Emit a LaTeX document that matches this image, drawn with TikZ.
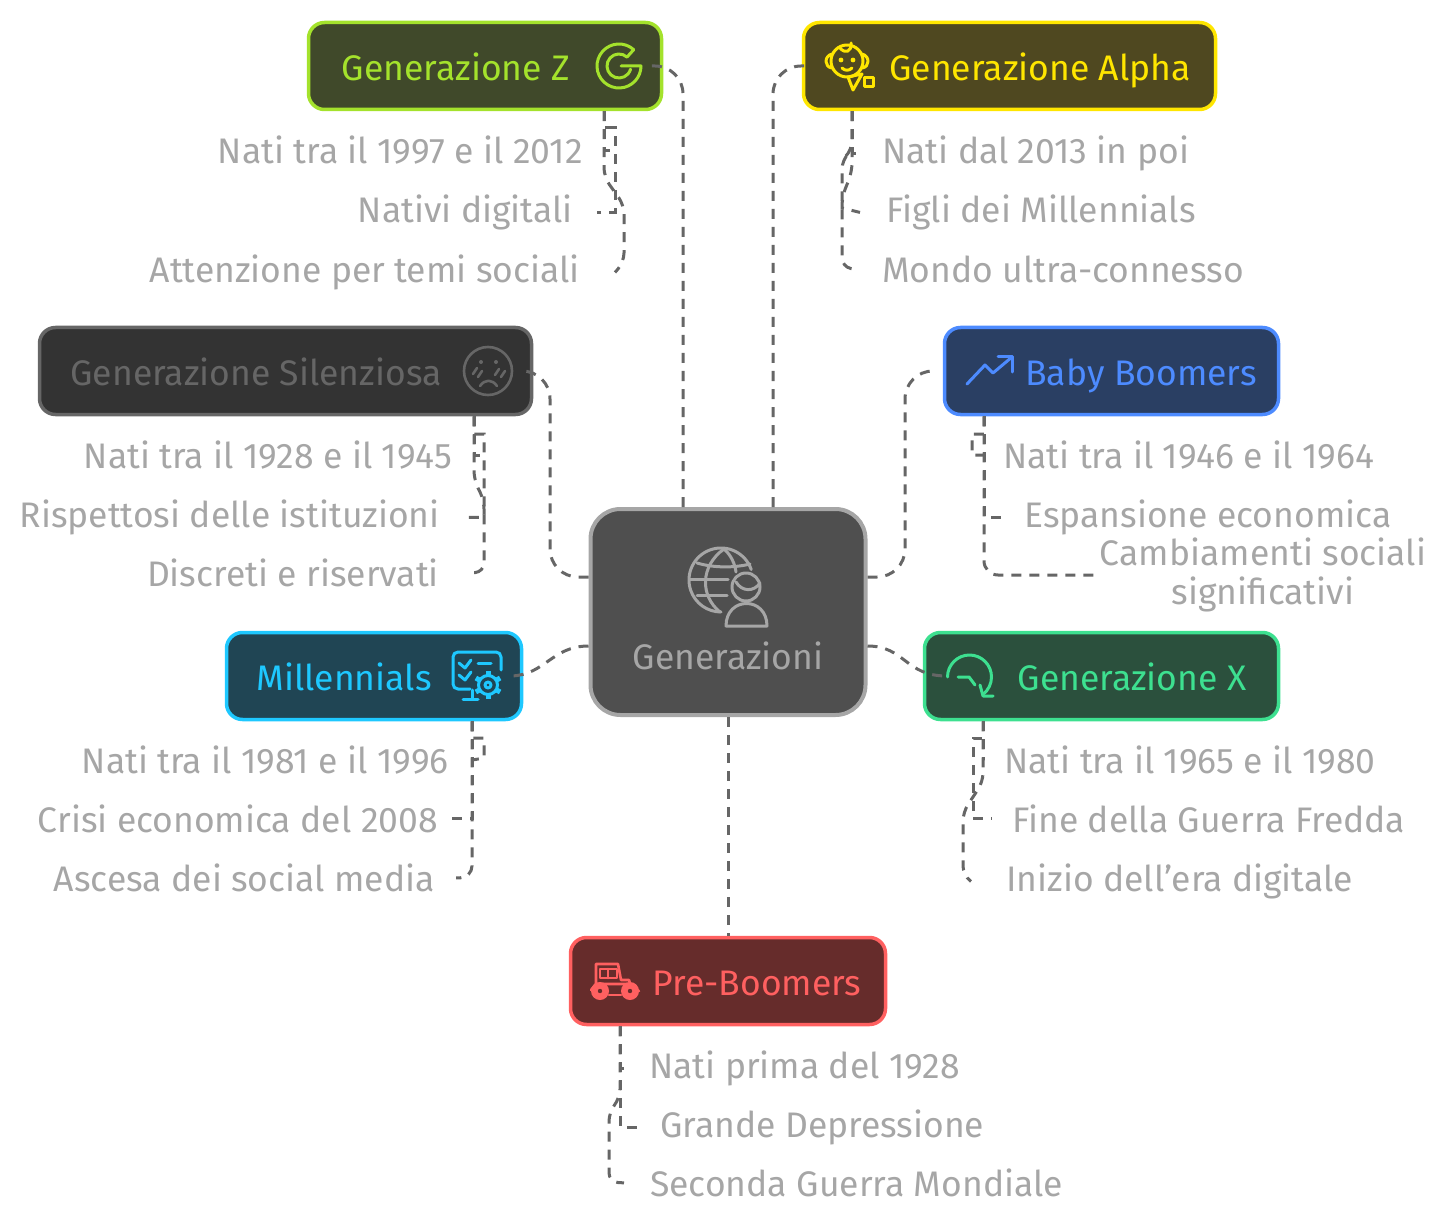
\documentclass[tikz,border=0pt]{standalone}
\usepackage{fontspec}
\setmainfont{Fira Sans}
\newcommand{\genfont}{\fontsize{35.5}{39}\selectfont}
\definecolor{linkgray}{HTML}{666666}
\definecolor{textgray}{HTML}{A6A6A6}
\definecolor{zline}{HTML}{A4E22C}
\definecolor{zfill}{HTML}{40492A}
\definecolor{aline}{HTML}{FFE600}
\definecolor{afill}{HTML}{4F4820}
\definecolor{sline}{HTML}{666666}
\definecolor{sfill}{HTML}{333333}
\definecolor{bline}{HTML}{4D8BFF}
\definecolor{bfill}{HTML}{2A3F63}
\definecolor{mline}{HTML}{1EC8FF}
\definecolor{mfill}{HTML}{204554}
\definecolor{xline}{HTML}{3DE090}
\definecolor{xfill}{HTML}{2B503D}
\definecolor{pline}{HTML}{FF6060}
\definecolor{pfill}{HTML}{662C2B}
\definecolor{rfill}{HTML}{4F4F4F}
\tikzset{
    genbox/.style 2 args={draw=#1, fill=#2, line width=3.5pt, rounded corners=16pt,
        minimum height=87pt, inner sep=0pt},
    genlabel/.style={font=\genfont, inner sep=0pt, anchor=base, yshift=-1.5pt},
    lefttext/.style={font=\genfont, text=textgray, inner sep=0pt, anchor=base east, yshift=-1.5pt},
    righttext/.style={font=\genfont, text=textgray, inner sep=0pt, anchor=base west, yshift=-1.5pt},
    link/.style={draw=linkgray, line width=3pt, dash pattern=on 10pt off 8pt},
    icon/.style={line width=3pt, line cap=round, line join=round},
}

\begin{document}
\begin{tikzpicture}[x=1pt, y=-1pt]
    \useasboundingbox (0,0) rectangle (1456,1222);
    % boxes
    \node[genbox={textgray}{rfill}, line width=4pt, rounded corners=30pt,
        minimum width=275pt, minimum height=206pt] (root) at (728,612) {};
    \node[genbox={zline}{zfill}, minimum width=353pt] (genz) at (485,66) {};
    \node[genbox={aline}{afill}, minimum width=412pt] (alpha) at (1009.5,66) {};
    \node[genbox={sline}{sfill}, minimum width=492pt] (silent) at (285.5,371) {};
    \node[genbox={bline}{bfill}, minimum width=334pt] (baby) at (1111.5,371) {};
    \node[genbox={mline}{mfill}, minimum width=295pt] (mill) at (374,676) {};
    \node[genbox={xline}{xfill}, minimum width=354pt] (genx) at (1101.5,676) {};
    \node[genbox={pline}{pfill}, minimum width=315pt] (pre) at (728,981) {};
    % labels
    \node[genlabel, text=textgray] (rootlabel) at (728,668) {Generazioni};
    \node[genlabel, text=zline] (genzlabel) at (456,79) {Generazione Z};
    \node[genlabel, text=aline] (alphalabel) at (1040,79) {Generazione Alpha};
    \node[genlabel, text=sline] (silentlabel) at (256,384) {Generazione Silenziosa};
    \node[genlabel, text=bline] (babylabel) at (1141,384) {Baby Boomers};
    \node[genlabel, text=mline] (milllabel) at (344,689) {Millennials};
    \node[genlabel, text=xline] (genxlabel) at (1132,689) {Generazione X};
    \node[genlabel, text=pline] (prelabel) at (757,994) {Pre-Boomers};
    % items
    \node[lefttext] (zone) at (583,162) {Nati tra il 1997 e il 2012};
    \node[lefttext] (ztwo) at (573,221) {Nativi digitali};
    \node[lefttext] (zthree) at (580,281) {Attenzione per temi sociali};
    \node[righttext] (aone) at (882,162) {Nati dal 2013 in poi};
    \node[righttext] (atwo) at (886,221) {Figli dei Millennials};
    \node[righttext] (athree) at (882,281) {Mondo ultra-connesso};
    \node[lefttext] (sone) at (452,467) {Nati tra il 1928 e il 1945};
    \node[lefttext] (stwo) at (440,526) {Rispettosi delle istituzioni};
    \node[lefttext] (sthree) at (439,585) {Discreti e riservati};
    \node[righttext] (bone) at (1003,467) {Nati tra il 1946 e il 1964};
    \node[righttext] (btwo) at (1024,526) {Espansione economica};
    \node[font=\genfont, text=textgray, inner sep=0pt, align=center] (bthree) at (1263,575)
        {Cambiamenti sociali\\significativi};
    \node[lefttext] (mone) at (449,772) {Nati tra il 1981 e il 1996};
    \node[lefttext] (mtwo) at (438,831) {Crisi economica del 2008};
    \node[lefttext] (mthree) at (435,890) {Ascesa dei social media};
    \node[righttext] (xone) at (1004,772) {Nati tra il 1965 e il 1980};
    \node[righttext] (xtwo) at (1012,831) {Fine della Guerra Fredda};
    \node[righttext] (xthree) at (1006,890) {Inizio dell'era digitale};
    \node[righttext] (pone) at (649,1077) {Nati prima del 1928};
    \node[righttext] (ptwo) at (660,1136) {Grande Depressione};
    \node[righttext] (pthree) at (650,1195) {Seconda Guerra Mondiale};
    % where the items leave each box
    \coordinate (genzfoot) at ([xshift=119pt]genz.south);
    \coordinate (alphafoot) at ([xshift=-157.5pt]alpha.south);
    \coordinate (silentfoot) at ([xshift=188.5pt]silent.south);
    \coordinate (babyfoot) at ([xshift=-127.5pt]baby.south);
    \coordinate (millfoot) at ([xshift=98pt]mill.south);
    \coordinate (genxfoot) at ([xshift=-118.5pt]genx.south);
    \coordinate (prefoot) at ([xshift=-108pt]pre.south);
    % root to boxes
    \draw[link, rounded corners=28pt] ([xshift=-45pt]root.north) |- ([xshift=-14pt]genz.east);
    \draw[link, rounded corners=28pt] ([xshift=45pt]root.north) |- ([xshift=5pt]alpha.west);
    \draw[link, rounded corners=28pt] ([yshift=35pt]root.west) -- (550,577) -- (550,371) -- ([xshift=-10pt]silent.east);
    \draw[link, rounded corners=28pt] ([yshift=35pt]root.east) -- (905,577) -- (905,371) -- ([xshift=-6pt]baby.west);
    \draw[link] ([yshift=-34pt]root.west) .. controls (552,646) and (545,675) .. ([xshift=-12pt]mill.east);
    \draw[link] ([yshift=-34pt]root.east) .. controls (905,646) and (905,676) .. ([xshift=24pt]genx.west);
    \draw[link] (root.south) -- (pre.north);
    % boxes to items
    \draw[link] (genzfoot) |- ([xshift=27pt]zone.east);
    \draw[link] (genzfoot) -- (604,128) -- (615,128) |- ([xshift=24pt]ztwo.east);
    \draw[link] (genzfoot) [rounded corners=9pt] -- (604,177) -- (624,205) -- (624,262) -- ([xshift=35pt]zthree.east);
    \draw[link] (alphafoot) |- ([xshift=-22pt]aone.west);
    \draw[link] (alphafoot) [rounded corners=9pt] -- (852,172) -- (842,197) [sharp corners] -- (842,208) -- ([xshift=-26pt]atwo.west);
    \draw[link] (alphafoot) [rounded corners=9pt] -- (852,150) -- (842,160) -- (842,267) -- ([xshift=-26pt]athree.west);
    \draw[link] (silentfoot) |- ([xshift=28pt]sone.east);
    \draw[link] (silentfoot) [rounded corners=9pt] -- (474,480) -- (484,500) [sharp corners] |- ([xshift=27pt]stwo.east);
    \draw[link] (silentfoot) -- (474,434) -- (484,434) [rounded corners=9pt] -- (484,572) -- ([xshift=32pt]sthree.east);
    \draw[link] (babyfoot) -- (984,434) -- (972,434) -- (972,455) -- ([xshift=-18pt]bone.west);
    \draw[link] (babyfoot) |- ([xshift=-19pt]btwo.west);
    \draw[link, rounded corners=14pt] (babyfoot) |- ([xshift=-4pt]bthree.west);
    \draw[link] (millfoot) -- (472,738) -- (484,738) -- (484,758) -- ([xshift=23pt]mone.east);
    \draw[link] (millfoot) |- ([xshift=14pt]mtwo.east);
    \draw[link, rounded corners=12pt] (millfoot) |- ([xshift=21pt]mthree.east);
    \draw[link] (genxfoot) |- ([xshift=-20pt]xone.west);
    \draw[link] (genxfoot) -- (983,738) -- (973,738) |- ([xshift=-20pt]xtwo.west);
    \draw[link] (genxfoot) [rounded corners=9pt] -- (983,782) -- (963,812) -- (963,875) -- ([xshift=-35pt]xthree.west);
    \draw[link] (prefoot) |- ([xshift=-22pt]pone.west);
    \draw[link] (prefoot) |- ([xshift=-20pt]ptwo.west);
    \draw[link] (prefoot) [rounded corners=9pt] -- (620,1098) -- (609,1112) -- (609,1182) -- ([xshift=-26pt]pthree.west);
    % icon: globe and person
    \begin{scope}[icon, draw=textgray]
        \draw (721,580) +(-19:32) arc[start angle=-19, end angle=-270, radius=32];
        \draw (724,549) .. controls (700,566) and (700,596) .. (720,612);
        \draw (724,549) .. controls (731,555) and (735,564) .. (736,572);
        \draw (697,563) .. controls (714,568) and (734,568) .. (750,564);
        \draw (690,579) -- (728,579);
        \draw (697,595) -- (727,595);
        \draw (746,587) circle (14);
        \draw (736,582) .. controls (742,592) and (754,592) .. (760,583);
        \draw (726,626) .. controls (726,596) and (767,596) .. (767,626) -- cycle;
    \end{scope}
    % icon: G
    \begin{scope}[icon, draw=zline]
        \draw (619,66) +(-48:22) arc[start angle=-48, end angle=-360, radius=22] -- (621,66);
        \draw (619,66) +(-48:12) arc[start angle=-48, end angle=-345, radius=12];
        \draw (619,66) +(-48:22) -- +(-48:12);
    \end{scope}
    % icon: baby
    \begin{scope}[icon, draw=aline]
        \draw (847,61) circle (16);
        \draw (832,54) .. controls (824,56) and (824,67) .. (832,68);
        \draw (862,54) .. controls (870,56) and (870,67) .. (862,68);
        \draw (840,48) .. controls (845,54) and (852,52) .. (851,43);
        \fill[aline] (841,60) circle (2.4) (853,60) circle (2.4);
        \draw (842,68) .. controls (845,71) and (849,71) .. (852,68);
        \draw (848,77) -- (862,74) -- (853,90) -- cycle;
        \draw (864,78) -- (873,78) -- (873,87) -- (864,87) -- cycle;
    \end{scope}
    % icon: sad face
    \begin{scope}[icon, draw=sline, line width=2.6pt]
        \draw (488,371) circle (24);
        \fill[sline] (481,362) circle (2) (496,362) circle (2);
        \draw (473,374) -- (477,368) (478,377) -- (482,371);
        \draw (495,375) -- (499,369) (501,377) -- (505,371);
        \draw (480,386) .. controls (485,379) and (492,379) .. (497,386);
    \end{scope}
    % icon: trend
    \draw[icon, draw=bline] (967,384) -- (985,365) -- (993,373) -- (1012,357);
    \draw[icon, draw=bline] (998,357) -- (1012,357) -- (1012,372);
    % icon: monitor with gear
    \begin{scope}[icon, draw=mline]
        \draw[rounded corners=5pt] (470,689) -- (453,689) -- (453,652) -- (501,652) -- (501,670);
        \draw (472,690) -- (472,699) (463,699) -- (478,699);
        \draw (459,663) -- (465,668) -- (471,660);
        \draw (459,675) -- (465,680) -- (471,672);
        \draw (478,663) -- (491,663);
        \foreach \a in {30,90,...,330}
            \draw[line width=5pt, line cap=butt] (488,685) +(\a:8) -- +(\a:14);
        \draw[fill=mfill] (488,685) circle (9.5);
        \draw (488,685) circle (3);
    \end{scope}
    % icon: time arrow
    \begin{scope}[icon, draw=xline]
        \draw (969.5,677) +(180:22) arc[start angle=180, end angle=413, radius=22];
        \draw (980,685) -- (983,696) -- (993,696);
        \draw (958,677) -- (969,677) -- (975,685);
    \end{scope}
    % icon: old car
    \begin{scope}[icon, draw=pline, line width=2.6pt]
        \draw (596,985) -- (596,964) -- (618,964) -- (621,980) -- (629,980) -- (631,987) -- (639,991);
        \draw (600,969) rectangle (617,978) (608,969) -- (608,978);
        \draw (591,990) -- (596,984) -- (630,984);
        \draw (609,995) -- (621,995);
        \fill[pline] (600,991) circle (9) (630,991) circle (9);
        \fill[pfill] (600,991) circle (2.2) (630,991) circle (2.2);
    \end{scope}
\end{tikzpicture}
\end{document}
